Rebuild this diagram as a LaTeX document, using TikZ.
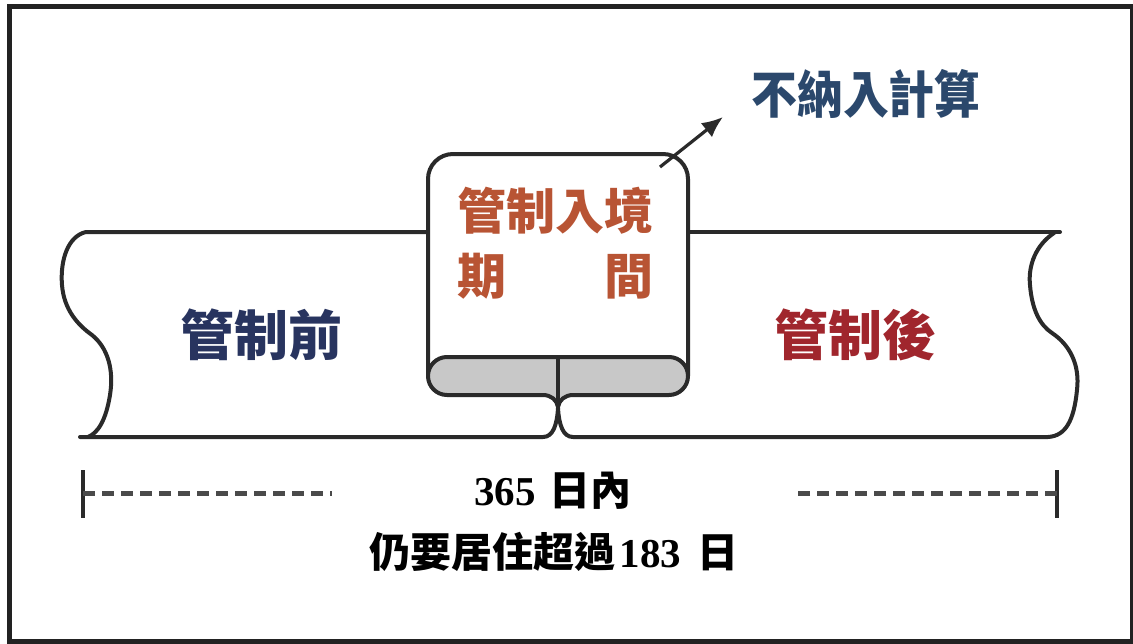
\documentclass[tikz,border=0pt]{standalone}
\usepackage{fontspec}
\setmainfont{Liberation Serif}
\newfontfamily\cjk{Noto Sans CJK TC}
\usetikzlibrary{arrows.meta}
\definecolor{linec}{RGB}{42,42,42}
\definecolor{framec}{RGB}{34,34,34}
\definecolor{rollfill}{RGB}{200,200,200}
\definecolor{navyA}{RGB}{40,52,95}
\definecolor{navyB}{RGB}{43,72,108}
\definecolor{rustc}{RGB}{184,84,52}
\definecolor{redc}{RGB}{160,38,45}
\tikzset{
  ln/.style={line width=4pt, draw=linec, line join=round, line cap=round},
  bigcjk/.style={inner sep=0pt, font=\cjk\bfseries\fontsize{54pt}{54pt}\selectfont},
  midcjk/.style={inner sep=0pt, font=\cjk\bfseries\fontsize{49pt}{65pt}\selectfont, align=left},
  botline/.style={inner sep=0pt, text=black},
  dashln/.style={line width=5pt, draw=linec!85, dash pattern=on 12pt off 7pt},
  tickln/.style={line width=3.2pt, draw=linec}
}
\begin{document}
\begin{tikzpicture}[x=1pt,y=-1pt]
\useasboundingbox (0,0) rectangle (1133,643);
% frame
\draw[line width=5.5pt, draw=framec] (9.5,6.5) rectangle (1132.5,641.5);

% band: left wavy edge, top and bottom lines
\draw[ln] (428,232) -- (86,232)
  .. controls (68,236) and (60,260) .. (62,285)
  .. controls (64,310) and (78,325) .. (92,335)
  .. controls (108,348) and (114,370) .. (110,395)
  .. controls (106,420) and (98,433) .. (88,437);
\draw[ln] (80,437) -- (543,437) .. controls (553,437) and (557,425) .. (558,408);
\draw[ln] (558,408) .. controls (559,425) and (563,437) .. (573,437) -- (1048,437);
\draw[ln] (688,232) -- (1060,232);
\draw[ln] (1054,233)
  .. controls (1036,245) and (1028,265) .. (1030,285)
  .. controls (1032,310) and (1040,325) .. (1052,333)
  .. controls (1070,345) and (1080,365) .. (1077,390)
  .. controls (1074,420) and (1066,436) .. (1048,437);

% central scroll box
\fill[white, rounded corners=25pt] (428,376) -- (428,154) -- (688,154) -- (688,376) -- cycle;
\draw[ln, rounded corners=25pt] (428,376) -- (428,154) -- (688,154) -- (688,376);
% roll
\filldraw[ln, fill=rollfill] (447,357) -- (669,357)
  .. controls (679.5,357) and (688,365.5) .. (688,376)
  .. controls (688,386.5) and (679.5,395) .. (669,395)
  -- (573,395) .. controls (565,395) and (559,400) .. (558,407)
  .. controls (557,400) and (551,395) .. (543,395)
  -- (447,395)
  .. controls (436.5,395) and (428,386.5) .. (428,376)
  .. controls (428,365.5) and (436.5,357) .. (447,357) -- cycle;
\draw[ln] (558,357) -- (558,407);

% arrow
\coordinate (arrS) at (660,167);
\coordinate (arrE) at (723,117);
\draw[line width=3.2pt, draw=linec, -{Latex[length=21pt,width=18pt]}] (arrS) -- (arrE);

% labels
\node[bigcjk, text=navyA] (before) at (261,335) {管制前};
\node[bigcjk, text=redc] (after) at (855,335) {管制後};
\node[midcjk, text=rustc, anchor=north west] (during) at (457,187) {管制入境\\期　　間};
\node[inner sep=0pt, font=\cjk\bfseries\fontsize{51pt}{51pt}\selectfont, text=navyB] (excl) at (866,94) {\scalebox{0.9}[1]{不納入計算}};

% bottom range
\coordinate (dl0) at (83,493);
\coordinate (dl1) at (332,493);
\coordinate (dr0) at (798,493);
\coordinate (dr1) at (1057,493);
\draw[tickln] (83,470) -- (83,518);
\draw[tickln] (1057,470) -- (1057,518);
\draw[dashln] (dl0) -- (dl1);
\draw[dashln] (dr1) -- (dr0);

\node[botline] (days) at (553,491) {\bfseries\fontsize{41pt}{41pt}\selectfont 365\hspace{14pt}{\cjk 日內}};
\node[botline] (stay) at (554,552) {\fontsize{41pt}{41pt}\selectfont{\cjk\bfseries 仍要居住超過}\hspace{4pt}\bfseries 183\hspace{16pt}{\cjk\bfseries 日}};
\end{tikzpicture}
\end{document}
